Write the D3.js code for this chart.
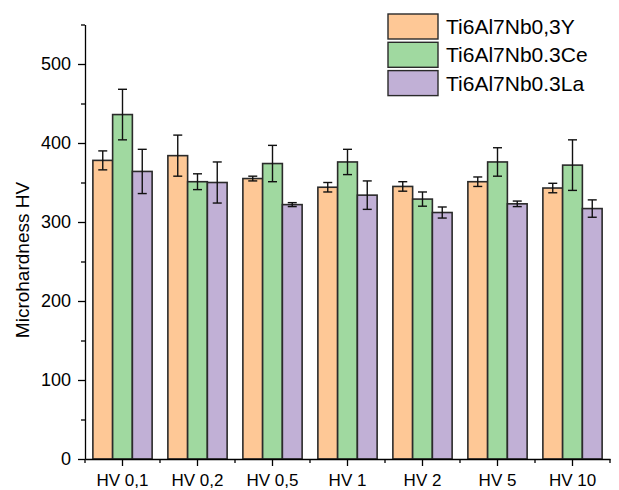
<!DOCTYPE html>
<html><head><meta charset="utf-8">
<script src="https://cdn.jsdelivr.net/npm/d3@7"></script>
<style>body{margin:0;background:#fff}svg text{font-family:"Liberation Sans",Arial,sans-serif;fill:#000}</style>
</head><body><svg id="c" width="619" height="490"></svg>
<script>
const categories = ["HV 0,1","HV 0,2","HV 0,5","HV 1","HV 2","HV 5","HV 10"];
const seriesNames = ["Ti6Al7Nb0,3Y","Ti6Al7Nb0.3Ce","Ti6Al7Nb0.3La"];
const valuesY  = [378,384,355,344,345,351,343];
const errorsY  = [12,26,3,6,6,6,6];
const valuesCe = [436,351,374,376,329,376,372];
const errorsCe = [32,10,23,16,9,18,32];
const valuesLa = [364,350,322,334,312,323,317];
const errorsLa = [28,26,2.5,18,7,3.5,11];
const yTicks = [0,100,200,300,400,500];
const colors = ["#FEC896","#A0D9A0","#C1B0D6"];

const series = [
  {name:seriesNames[0], v:valuesY, e:errorsY, c:colors[0]},
  {name:seriesNames[1], v:valuesCe, e:errorsCe, c:colors[1]},
  {name:seriesNames[2], v:valuesLa, e:errorsLa, c:colors[2]}
];

const svg = d3.select("#c");
const x0 = d3.scaleBand().domain(categories).range([85,610]).paddingInner(0.21).paddingOuter(0.105);
const x1 = d3.scaleBand().domain(d3.range(series.length)).range([0,x0.bandwidth()]);
const y = d3.scaleLinear().domain([0,550]).range([459,24.5]);

// bars
series.forEach((s,si)=>{
  const g = svg.append("g");
  g.selectAll("rect").data(categories).join("rect")
    .attr("x",(d)=>x0(d)+x1(si))
    .attr("y",(d,i)=>y(s.v[i]))
    .attr("width",x1.bandwidth())
    .attr("height",(d,i)=>y(0)-y(s.v[i]))
    .attr("fill",s.c).attr("stroke","#2a2a2a").attr("stroke-width",1.6);
});
// error bars
series.forEach((s,si)=>{
  const g = svg.append("g").attr("stroke","#111").attr("stroke-width",1.4).attr("fill","none");
  categories.forEach((d,i)=>{
    const cx = x0(d)+x1(si)+x1.bandwidth()/2;
    const t = y(s.v[i]+s.e[i]), b = y(s.v[i]-s.e[i]);
    g.append("line").attr("x1",cx).attr("x2",cx).attr("y1",t).attr("y2",b);
    g.append("line").attr("x1",cx-4.5).attr("x2",cx+4.5).attr("y1",t).attr("y2",t);
    g.append("line").attr("x1",cx-4.5).attr("x2",cx+4.5).attr("y1",b).attr("y2",b);
  });
});

// y axis
const yAxis = d3.axisLeft(y).tickValues(yTicks).tickSize(7).tickPadding(7).tickSizeOuter(0);
const gy = svg.append("g").attr("transform","translate(85,0)").call(yAxis);
gy.selectAll("text").style("font-size","18px");
gy.selectAll("line,path").attr("stroke","#000").attr("stroke-width",1.3);
const gym = svg.append("g").attr("transform","translate(85,0)")
  .call(d3.axisLeft(y).tickValues([50,150,250,350,450,550]).tickSize(4).tickFormat("").tickSizeOuter(0));
gym.selectAll("line").attr("stroke","#000").attr("stroke-width",1.3);
gym.select("path").remove();

// x axis
const gx = svg.append("g").attr("transform","translate(0,459)")
  .call(d3.axisBottom(x0).tickSize(7).tickPadding(8).tickSizeOuter(0));
gx.selectAll("text").style("font-size","17px");
gx.selectAll("line,path").attr("stroke","#000").attr("stroke-width",1.3);
const edges = categories.map(d=>x0(d)-x0.step()*x0.paddingInner()/2).concat([x0(categories[categories.length-1])+x0.bandwidth()+x0.step()*x0.paddingInner()/2]);
svg.append("g").selectAll("line").data(edges).join("line")
  .attr("x1",d=>d).attr("x2",d=>d).attr("y1",459).attr("y2",463)
  .attr("stroke","#000").attr("stroke-width",1.3);

// y label
svg.append("text").attr("transform","translate(29,260) rotate(-90)")
  .attr("text-anchor","middle").style("font-size","19px").text("Microhardness HV");

// legend
const lg = svg.append("g");
series.forEach((s,i)=>{
  const yy = 14 + i*28.3;
  lg.append("rect").attr("x",388).attr("y",yy).attr("width",50).attr("height",25)
    .attr("fill",s.c).attr("stroke","#2a2a2a").attr("stroke-width",1.4);
  lg.append("text").attr("x",446).attr("y",yy+20).style("font-size","21px").text(s.name);
});
</script></body></html>
